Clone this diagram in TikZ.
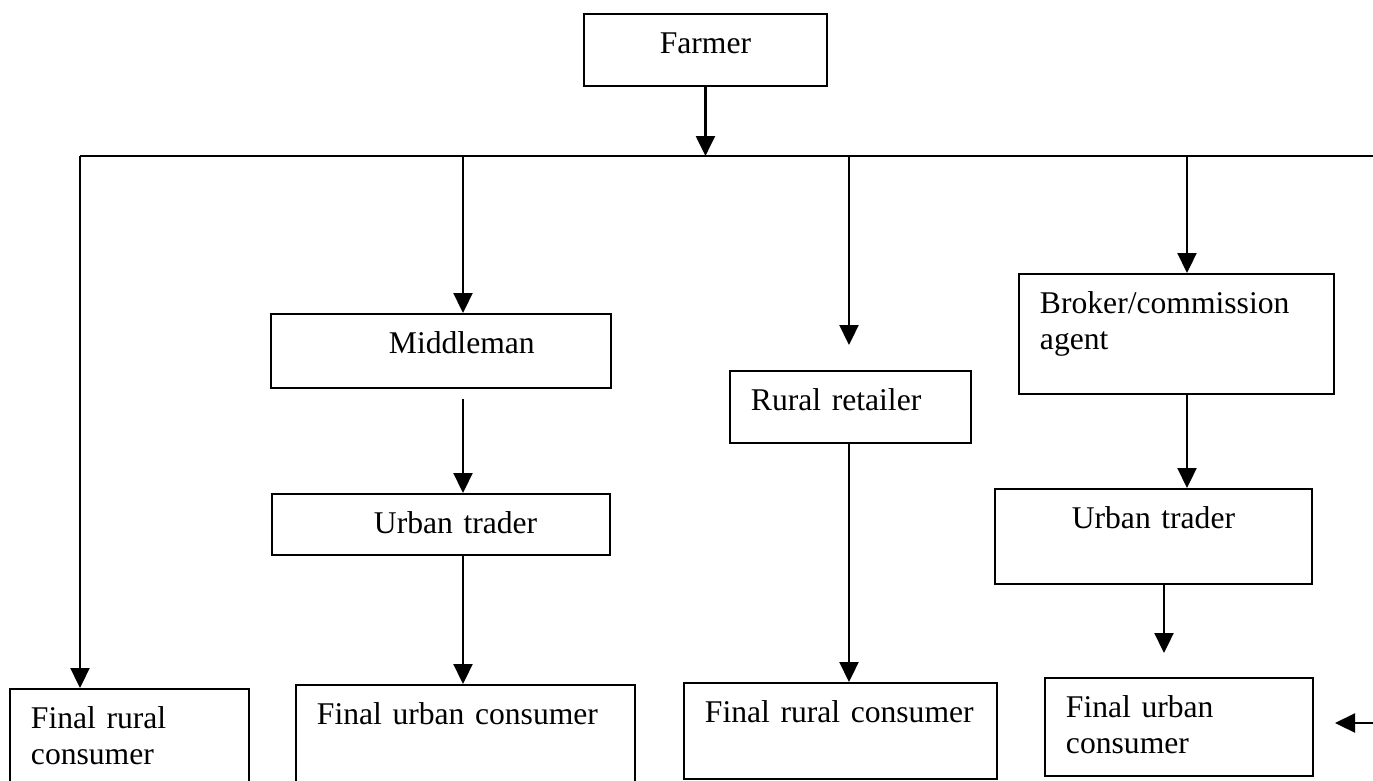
\documentclass[tikz,border=0pt]{standalone}
\usepackage{fontspec}
\setmainfont{Liberation Serif}
\usetikzlibrary{positioning,arrows.meta}

\tikzset{
  box/.style 2 args={draw, line width=1.1pt, anchor=north west, inner xsep=0.42cm, inner ysep=0pt,
    text height=0.8cm, text width=#1, text depth=#2, align=left},
  flow/.style={line width=1.3pt, -{Triangle[length=0.4cm,width=0.38cm]}},
}

\begin{document}
\begin{tikzpicture}[x=0.02cm, y=-0.02cm, font=\fontsize{18}{20.4}\selectfont]
\useasboundingbox (0,0) rectangle (1373,781);

% Top box and the bus line
\node[box={4.02cm}{0.64cm}, align=center] (farmer) at (583,13) {Farmer};
\coordinate (busL) at (80,156);
\coordinate (busR) at (1373,156);
\coordinate (j1) at (463,156);
\coordinate (j2) at (849,156);
\coordinate (j3) at (1187,156);
\draw[line width=1.3pt] (busL) -- (busR);
\draw[flow] (farmer) -- (farmer |- busL);

% Middle row
\node[box={5.96cm}{0.68cm}] (middle) at (270,313) {\hspace*{1.94cm}Middleman};
\node[box={5.92cm}{0.42cm}] (urbanL) at (271,493) {\hspace*{1.62cm}Urban trader};
\node[box={3.98cm}{0.64cm}] (retail) at (729,370) {Rural retailer};
\node[box={5.46cm}{1.6cm}] (broker) at (1018,273) {Broker/commission\\agent};
\node[box={5.5cm}{1.1cm}, align=center] (urbanR) at (994,488) {Urban trader};

% Bottom row (cut at the page edge)
\node[box={3.94cm}{1.44cm}] (finalA) at (9,688) {Final rural\\consumer};
\node[box={5.94cm}{1.52cm}] (finalB) at (295,684) {Final urban consumer};
\node[box={5.42cm}{1.12cm}] (finalC) at (683,682) {Final rural consumer};
\node[box={4.52cm}{1.16cm}] (finalD) at (1044,677) {Final urban\\consumer};

% Flows
\draw[flow] (busL) -- (busL |- finalA.north);
\draw[flow] (j1) -- (j1 |- middle.north);
\draw[flow, shorten <=0.2cm] (j1 |- middle.south) -- (j1 |- urbanL.north);
\draw[flow] (j1 |- urbanL.south) -- (j1 |- finalB.north);
\draw[flow, shorten >=0.5cm] (j2) -- (j2 |- retail.north);
\draw[flow] (j2 |- retail.south) -- (j2 |- finalC.north);
\draw[flow] (j3) -- (j3 |- broker.north);
\draw[flow] (j3 |- broker.south) -- (j3 |- urbanR.north);
\coordinate (j4) at (1164,583);
\draw[flow, shorten >=0.48cm] (j4) -- (j4 |- finalD.north);
\coordinate (edgeR) at (1373,723);
\coordinate (tipR) at (1335,723);
\draw[flow] (edgeR) -- (tipR);
\end{tikzpicture}
\end{document}
